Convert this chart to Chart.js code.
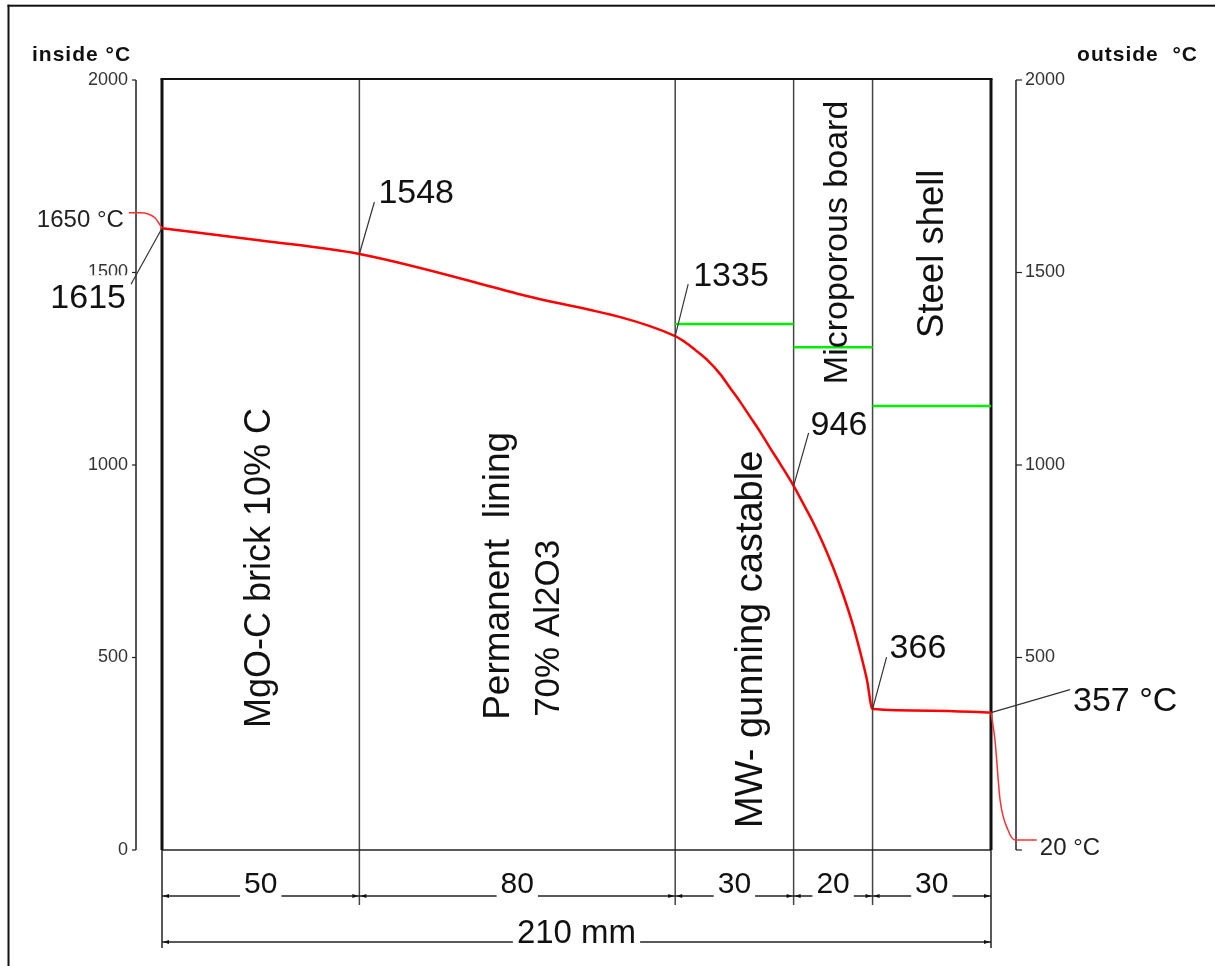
<!DOCTYPE html>
<html><head><meta charset="utf-8">
<script src="https://cdn.jsdelivr.net/npm/chart.js@4.4.1/dist/chart.umd.min.js"></script>
<style>html,body{margin:0;padding:0;background:#fff;}canvas{display:block;}</style>
</head><body>
<canvas id="c" width="1215" height="966"></canvas>
<script>
// ---------- data ----------
const layerBounds = [0, 50, 130, 160, 180, 210];           // mm
const layerWidths = ["50", "80", "30", "20", "30"];
const totalLabel = "210 mm";
const layerNames = [["MgO-C brick 10% C"], ["Permanent  lining", "70% Al2O3"], ["MW- gunning castable"], ["Microporous board"], ["Steel shell"]];
const profileX = [0, 25, 50, 90, 130, 132.53, 135.07, 138.11, 141.4, 143.93, 146.46, 149.0, 151.53, 154.06, 156.6, 160, 162.36, 164.89, 167.43, 169.96, 172.49, 175.03, 177.05, 178.57, 180, 195, 210];
const profileY = [1615, 1583, 1548, 1445, 1335, 1319, 1299, 1273, 1236, 1200, 1164, 1125, 1086, 1044, 1003, 946, 901, 852, 797, 735, 665, 584, 507, 442, 366, 362, 357];
const insideX = [-8.4, -5.6, -3.5, -1.8, -0.6, 0];
const insideY = [1655, 1655, 1652, 1642, 1625, 1615];
const outsideX = [210, 211, 212.3, 214.3, 216.1, 221.6];
const outsideY = [357, 286, 130, 52, 26, 26];
const greenStart = [130, 160, 180];
const greenEnd = [160, 180, 210];
const greenY = [1366, 1306, 1153];
const yTicks = [0, 500, 1000, 1500, 2000];
const leftTickLabels = ["0", "500", "1000", "1500", "2000"];
const rightTickLabels = ["", "500", "1000", "1500", "2000"];
const markX = [0, 50, 130, 160, 180, 210];
const markY = [1615, 1548, 1335, 946, 366, 357];
const markText = ["1615", "1548", "1335", "946", "366", "357 °C"];
const insideTempLabel = "1650 °C";
const outsideTempLabel = "20 °C";
const leftTitle = "inside °C";
const rightTitle = "outside  °C";

// ---------- styles ----------
const FONT = "'Liberation Sans', Arial, sans-serif";
const markLeader = [[-31, 56], [15, -52], [13, -52], [15, -53], [14, -52], [79, -23]];
const markTextPos = [[-36, 80, 'right'], [19, -51, 'left'], [18, -50, 'left'], [17, -51, 'left'], [17, -51, 'left'], [82, -2, 'left']];
const layerLabelDX = [9, -8, 28, 14, 11.5];   // baseline offset from layer centre (px)
const layerLabelStart = [317, 338, 57, 1210, 1330]; // value where text starts (bottom)
const layerFont = [36, 37, 38, 34, 36.5];
const lineGap = 50;

const toPts = (xs, ys) => xs.map((x, i) => ({x: x, y: ys[i]}));

function line(ctx, x0, y0, x1, y1) { ctx.beginPath(); ctx.moveTo(x0, y0); ctx.lineTo(x1, y1); ctx.stroke(); }
function arrow(ctx, x, y, dir) { ctx.beginPath(); ctx.moveTo(x, y); ctx.lineTo(x - dir * 6, y - 2); ctx.lineTo(x - dir * 6, y + 2); ctx.closePath(); ctx.fill(); }

const drawPlugin = {
  id: 'custom',
  beforeDraw(chart) {
    const c = chart.ctx;
    c.save();
    c.fillStyle = '#fff'; c.fillRect(0, 0, chart.width, chart.height);
    c.fillStyle = '#111';
    c.fillRect(7.5, 4.7, 2, chart.height);
    c.fillRect(7.5, 4.7, chart.width, 2);
    c.restore();
  },
  beforeDatasetsDraw(chart) {
    const ctx = chart.ctx, a = chart.chartArea, xs = chart.scales.x, ys = chart.scales.y;
    const X = v => xs.getPixelForValue(v), Y = v => ys.getPixelForValue(v);
    const top = Y(2000), bot = Y(0);
    ctx.save();
    ctx.lineCap = 'butt';
    ctx.strokeStyle = '#444'; ctx.lineWidth = 1.5;
    for (let i = 1; i < layerBounds.length - 1; i++) {
      const px = X(layerBounds[i]);
      line(ctx, px, top, px, bot + 55);
    }
    ctx.strokeStyle = '#222'; ctx.lineWidth = 1.5;
    line(ctx, X(layerBounds[0]), bot, X(layerBounds[5]), bot);
    line(ctx, X(layerBounds[0]), bot, X(layerBounds[0]), bot + 98);
    line(ctx, X(layerBounds[5]), bot, X(layerBounds[5]), bot + 98);
    ctx.strokeStyle = '#111'; ctx.lineWidth = 3;
    line(ctx, X(layerBounds[0]), top - 1, X(layerBounds[0]), bot);
    line(ctx, X(layerBounds[5]), top - 1, X(layerBounds[5]), bot);
    ctx.lineWidth = 2;
    line(ctx, X(layerBounds[0]) - 1.5, top - 1, X(layerBounds[5]) + 1.5, top - 1);
    const axL = a.left - 26, axR = a.right + 25;
    ctx.strokeStyle = '#222'; ctx.lineWidth = 1.5;
    line(ctx, axL, top, axL, bot); line(ctx, axR, top, axR, bot);
    ctx.lineWidth = 1.2;
    yTicks.forEach(t => { const py = Y(t); line(ctx, axL - 4, py, axL, py); line(ctx, axR, py, axR + 6, py); });
    ctx.strokeStyle = '#222'; ctx.fillStyle = '#111'; ctx.lineWidth = 1.5;
    const dimY = bot + 46;
    ctx.font = '30px ' + FONT; ctx.textAlign = 'center'; ctx.textBaseline = 'alphabetic';
    for (let i = 0; i < layerWidths.length; i++) {
      const x0 = X(layerBounds[i]), x1 = X(layerBounds[i + 1]);
      const cx = (x0 + x1) / 2, w = ctx.measureText(layerWidths[i]).width;
      line(ctx, x0, dimY, cx - w / 2 - 4, dimY);
      line(ctx, cx + w / 2 + 4, dimY, x1, dimY);
      arrow(ctx, x0 + 1, dimY, -1); arrow(ctx, x1 - 1, dimY, 1);
      ctx.fillText(layerWidths[i], cx, dimY - 3);
    }
    const totY = bot + 92;
    ctx.font = '33px ' + FONT;
    {
      const x0 = X(layerBounds[0]), x1 = X(layerBounds[5]);
      const cx = (x0 + x1) / 2, w = ctx.measureText(totalLabel).width;
      line(ctx, x0, totY, cx - w / 2 - 4, totY);
      line(ctx, cx + w / 2 + 4, totY, x1, totY);
      arrow(ctx, x0 + 1, totY, -1); arrow(ctx, x1 - 1, totY, 1);
      ctx.fillText(totalLabel, cx, totY + 1);
    }
    ctx.restore();
  },
  afterDatasetsDraw(chart) {
    const ctx = chart.ctx, xs = chart.scales.x, ys = chart.scales.y;
    const X = v => xs.getPixelForValue(v), Y = v => ys.getPixelForValue(v);
    ctx.save();
    ctx.fillStyle = '#111'; ctx.textBaseline = 'alphabetic';
    ctx.textAlign = 'left';
    for (let i = 0; i < layerNames.length; i++) {
      const cx = (X(layerBounds[i]) + X(layerBounds[i + 1])) / 2;
      ctx.font = layerFont[i] + 'px ' + FONT;
      layerNames[i].forEach((t, j) => {
        ctx.save();
        ctx.translate(cx + layerLabelDX[i] + j * lineGap, Y(layerLabelStart[i]) - j * 3);
        ctx.rotate(-Math.PI / 2);
        if (j > 0) ctx.font = '35px ' + FONT;
        ctx.fillText(t, 0, 0);
        ctx.restore();
      });
    }
    ctx.font = '34px ' + FONT;
    for (let i = 0; i < markX.length; i++) {
      const px = X(markX[i]), py = Y(markY[i]);
      const tp = markTextPos[i];
      ctx.textAlign = tp[2];
      if (i === 0) {
        const w = ctx.measureText(markText[i]).width;
        ctx.fillStyle = '#fff';
        ctx.fillRect(px + tp[0] - w - 4, py + tp[1] - 33, w + 6, 38);
        ctx.fillStyle = '#111';
      }
      ctx.strokeStyle = '#333'; ctx.lineWidth = 1.2;
      line(ctx, px, py, px + markLeader[i][0], py + markLeader[i][1]);
      ctx.fillText(markText[i], px + tp[0], py + tp[1]);
    }
    ctx.font = '24px ' + FONT; ctx.fillStyle = '#222';
    ctx.textAlign = 'right';
    ctx.fillText(insideTempLabel, X(insideX[0]) - 5, Y(insideY[0]) + 14);
    ctx.textAlign = 'left';
    ctx.fillText(outsideTempLabel, X(outsideX[outsideX.length - 1]) + 3, Y(outsideY[outsideY.length - 1]) + 15);
    ctx.font = 'bold 21px ' + FONT; ctx.fillStyle = '#111';
    try { ctx.letterSpacing = '1px'; } catch (e) {}
    ctx.textAlign = 'left'; ctx.fillText(leftTitle, 32, 61);
    ctx.textAlign = 'right'; ctx.fillText(rightTitle, 1198, 61);
    ctx.restore();
  }
};

const lineDs = (pts, color, w) => ({data: pts, borderColor: color, borderWidth: w, showLine: true, pointRadius: 0, fill: false, clip: false, cubicInterpolationMode: 'monotone'});
const datasets = [
  lineDs(toPts(insideX, insideY), '#ff3030', 1.5),
  lineDs(toPts(outsideX, outsideY), '#ff3030', 1.5),
  lineDs(toPts(profileX, profileY), '#ff0000', 2.5)
].concat(greenStart.map((s, i) => lineDs([{x: s, y: greenY[i]}, {x: greenEnd[i], y: greenY[i]}], '#00f000', 2.5)));

const tickFont = {family: FONT, size: 18};
new Chart(document.getElementById('c'), {
  type: 'scatter',
  data: {datasets: datasets},
  options: {
    responsive: false, animation: false, events: [],
    layout: {padding: {top: 80, bottom: 116, left: 0, right: 0}},
    plugins: {legend: {display: false}, tooltip: {enabled: false}},
    scales: {
      x: {type: 'linear', display: false, bounds: 'data',
          afterDataLimits: s => { s.min = layerBounds[0]; s.max = layerBounds[layerBounds.length - 1]; }},
      y: {type: 'linear', position: 'left', min: 0, max: 2000,
          afterBuildTicks: s => { s.ticks = yTicks.map(v => ({value: v})); },
          ticks: {font: tickFont, color: '#333', padding: 34, callback: (v, i) => leftTickLabels[i]},
          grid: {display: false, drawTicks: false}, border: {display: false},
          afterFit: s => { s.width = 162; }},
      y2: {type: 'linear', position: 'right', min: 0, max: 2000,
          afterBuildTicks: s => { s.ticks = yTicks.map(v => ({value: v})); },
          ticks: {font: tickFont, color: '#333', padding: 34, callback: (v, i) => rightTickLabels[i]},
          grid: {display: false, drawTicks: false}, border: {display: false},
          afterFit: s => { s.width = 224; }}
    }
  },
  plugins: [drawPlugin]
});
</script>
</body></html>
